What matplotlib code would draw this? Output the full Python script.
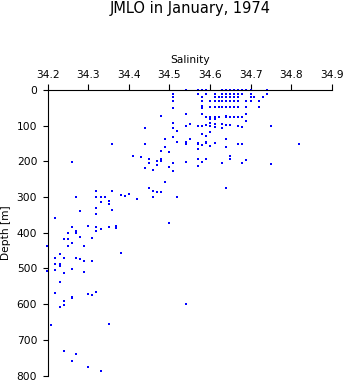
import matplotlib
matplotlib.use("Agg")
import matplotlib.pyplot as plt

plt.rcParams["font.family"] = ["DejaVu Sans"]

# 盐度 / 深度 观测值（1974 年 1 月 JMLO 航次）
salinity = [
    # 上层 34.48 ~ 34.52 一带
    34.509, 34.509, 34.509, 34.509, 34.480, 34.509, 34.519, 34.509, 34.440, 34.509,
    34.519, 34.440, 34.359, 34.490, 34.490, 34.480, 34.500, 34.409, 34.430, 34.440,
    34.450, 34.450, 34.470, 34.480, 34.480, 34.470, 34.460, 34.500, 34.509, 34.509,
    34.260, 34.490, 34.450, 34.460, 34.470, 34.480, 34.460, 34.519, 34.359, 34.320,
    34.320, 34.330, 34.340, 34.330, 34.350, 34.350, 34.320, 34.359, 34.320, 34.270,
    34.280, 34.380, 34.390, 34.400, 34.419, 34.219, 34.260, 34.270, 34.270, 34.300,
    34.320, 34.320, 34.330, 34.350, 34.369, 34.369, 34.500, 34.250, 34.280, 34.310,
    34.240, 34.250,
    # 深层
    34.198, 34.250, 34.260, 34.290, 34.230, 34.219, 34.240, 34.270, 34.280, 34.290,
    34.310, 34.380, 34.219, 34.230, 34.230, 34.219, 34.260, 34.198, 34.240, 34.290,
    34.230, 34.219, 34.300, 34.310, 34.320, 34.260, 34.260, 34.240, 34.240, 34.230,
    34.208, 34.350, 34.240, 34.270, 34.260, 34.300, 34.330, 34.540,
    # 表层网格
    34.540, 34.570, 34.580, 34.590, 34.630, 34.640, 34.649, 34.659, 34.669, 34.679,
    34.689, 34.700, 34.741,
    34.570, 34.590, 34.611, 34.630, 34.640, 34.649, 34.659, 34.669, 34.679, 34.700,
    34.741,
    34.580, 34.611, 34.621, 34.630, 34.640, 34.649, 34.659, 34.669, 34.700, 34.709,
    34.731,
    34.580, 34.600, 34.611, 34.621, 34.630, 34.640, 34.649, 34.659, 34.669, 34.689,
    34.700, 34.720,
    34.580, 34.580, 34.600, 34.611, 34.621, 34.630, 34.640, 34.649, 34.659, 34.669,
    34.689, 34.720,
    # 70 ~ 280 m
    34.540, 34.580, 34.590, 34.600, 34.600, 34.611, 34.611, 34.621, 34.640, 34.640,
    34.649, 34.659, 34.669, 34.679, 34.689, 34.689,
    34.550, 34.600, 34.540, 34.570, 34.580, 34.590, 34.600, 34.611, 34.630, 34.640,
    34.649, 34.669, 34.679, 34.751, 34.611, 34.630,
    34.600, 34.580, 34.590, 34.550, 34.640,
    34.540, 34.540, 34.570, 34.570, 34.580, 34.590, 34.590, 34.611, 34.669, 34.679,
    34.820, 34.600, 34.640, 34.570, 34.649,
    34.570, 34.590, 34.649, 34.689, 34.540, 34.580, 34.630, 34.679, 34.751, 34.570,
    34.640,
]

depth = [
    11, 20, 31, 50, 73, 93, 114, 107, 107, 131,
    146, 151, 152, 137, 159, 170, 175, 186, 189, 219,
    194, 205, 200, 194, 200, 210, 224, 215, 205, 227,
    203, 259, 274, 283, 287, 287, 301, 301, 283, 283,
    299, 299, 299, 315, 311, 321, 331, 337, 349, 301,
    338, 295, 298, 292, 305, 359, 385, 396, 402, 380,
    383, 396, 390, 385, 380, 387, 373, 402, 411, 415,
    418, 418,
    438, 438, 429, 436, 460, 471, 471, 471, 473, 478,
    478, 457, 489, 488, 493, 504, 503, 508, 514, 511,
    539, 570, 572, 575, 566, 581, 584, 590, 603, 609,
    659, 656, 732, 739, 760, 776, 787, 599,
    1, 1, 1, 1, 1, 1, 1, 1, 1, 1,
    1, 1, 1,
    12, 12, 12, 12, 12, 12, 12, 12, 12, 12,
    12,
    21, 21, 21, 21, 21, 21, 21, 21, 21, 21,
    21,
    31, 31, 31, 31, 31, 31, 31, 31, 31, 31,
    31, 31,
    46, 52, 49, 49, 49, 49, 49, 49, 49, 49,
    49, 49,
    68, 68, 75, 75, 82, 77, 82, 75, 73, 77,
    77, 77, 77, 77, 68, 88,
    95, 92, 101, 100, 100, 99, 100, 97, 95, 98,
    99, 101, 104, 101, 104, 107,
    117, 124, 129, 138, 138,
    145, 152, 148, 152, 154, 145, 148, 148, 152, 152,
    152, 158, 161, 166, 185,
    194, 194, 194, 197, 202, 202, 205, 205, 208, 214,
    276,
]

sal_ticks = [34.2, 34.3, 34.4, 34.5, 34.6, 34.7, 34.8, 34.9]
depth_ticks = [0, 100, 200, 300, 400, 500, 600, 700, 800]

fig = plt.figure(figsize=(3.46, 3.84), dpi=100)
ax = fig.add_axes([0.138, 0.022, 0.821, 0.744])

# 每个样点画一个小方块
ax.plot(salinity, depth, linestyle="none", marker="s", markersize=1.9,
        markeredgewidth=0, color="#0000ff", clip_on=False)

ax.set_xlim(34.2, 34.9)
ax.set_ylim(800, 0)
ax.set_xticks(sal_ticks)
ax.set_xticklabels([f"{v:.1f}" for v in sal_ticks])
ax.set_yticks(depth_ticks)

# 盐度轴放在上方，只保留左侧和上方的轴线
ax.xaxis.tick_top()
ax.xaxis.set_label_position("top")
for side in ["bottom", "right"]:
    ax.spines[side].set_visible(False)
for side in ["top", "left"]:
    ax.spines[side].set_linewidth(0.8)

ax.tick_params(axis="x", direction="out", length=4.3, width=0.8, pad=2.5, labelsize=7.7)
ax.tick_params(axis="y", direction="out", length=3.6, width=0.8, pad=4, labelsize=7.7)

ax.set_xlabel("Salinity", fontsize=7.7, labelpad=5)
ax.set_ylabel("Depth [m]", fontsize=7.7, labelpad=4)

fig.text(190 / 346, 1 - 9 / 384, "JMLO in January, 1974", ha="center", va="center",
         fontsize=10.5)

fig.savefig("out.png", dpi=100)
